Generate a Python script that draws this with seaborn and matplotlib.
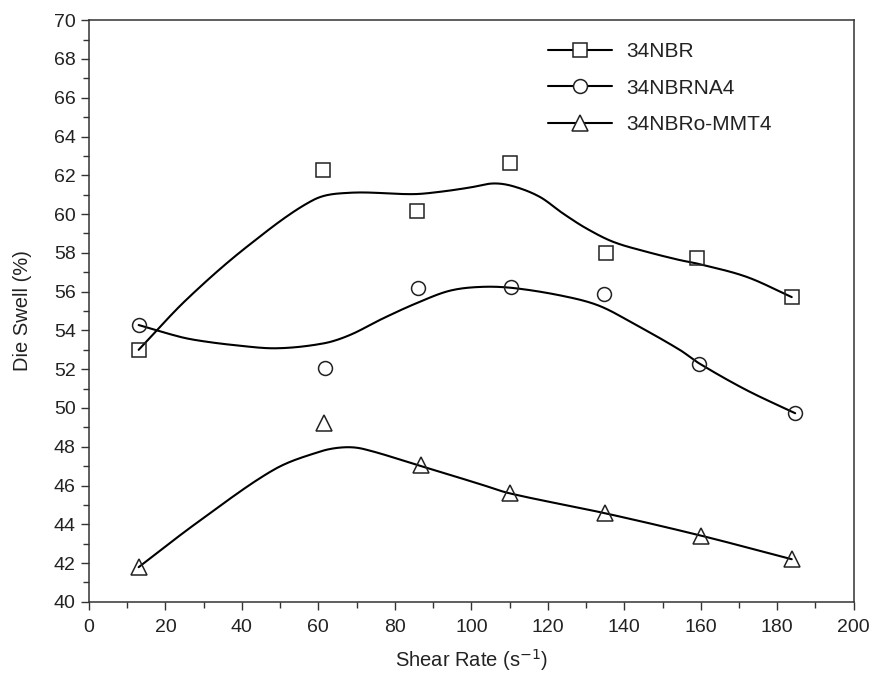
import numpy as np
import pandas as pd
import matplotlib
matplotlib.use("Agg")
import matplotlib.pyplot as plt
from matplotlib.lines import Line2D
import seaborn as sns

# ---- measured data points ----
x_nbr = [13, 61.2, 85.8, 110.1, 135.2, 159.0, 183.8]
y_nbr = [53.0, 62.27, 60.15, 62.63, 58.0, 57.73, 55.72]

x_na4 = [13, 61.7, 86.0, 110.3, 134.6, 159.6, 184.7]
y_na4 = [54.28, 52.05, 56.17, 56.25, 55.88, 52.27, 49.73]

x_mmt = [13, 61.4, 86.9, 110.0, 135.0, 160.0, 183.8]
y_mmt = [41.79, 49.21, 47.06, 45.6, 44.57, 43.42, 42.2]

# ---- fitted (smoothed) curves ----
cx_nbr = [13, 25.4, 41.2, 58.6, 68.2, 84.8, 91.8, 99.6, 105.7, 110.9, 117.9, 124.0,
          130.1, 137.1, 145.8, 154.5, 158.8, 171.9, 183.8]
cy_nbr = [53.0, 55.57, 58.3, 60.72, 61.1, 61.03, 61.15, 61.37, 61.58, 61.44, 60.89, 60.03,
          59.26, 58.57, 58.06, 57.63, 57.46, 56.77, 55.72]

cx_na4 = [13, 23.8, 29.0, 37.7, 49.0, 61.3, 68.2, 76.9, 85.6, 94.4, 103.1, 111.8, 124.9,
          133.6, 142.3, 154.5, 159.6, 171.9, 184.7]
cy_na4 = [54.28, 53.67, 53.47, 53.25, 53.08, 53.33, 53.76, 54.62, 55.40, 56.05, 56.25, 56.17,
          55.74, 55.26, 54.37, 53.0, 52.3, 50.93, 49.73]

cx_mmt = [13, 28.1, 48.2, 60.4, 66.5, 71.7, 86.9, 102.2, 110.0, 135.0, 160.0, 183.8]
cy_mmt = [41.79, 44.06, 46.8, 47.75, 47.97, 47.89, 47.0, 46.08, 45.6, 44.57, 43.42, 42.2]

labels = ["34NBR", "34NBRNA4", "34NBRo-MMT4"]
markers = ["s", "o", "^"]


def smooth(xs, ys, n=24):
    """Cubic Hermite rendering of a read-off curve (for drawing only)."""
    x = np.asarray(xs, float)
    y = np.asarray(ys, float)
    m = np.empty_like(y)
    m[1:-1] = (y[2:] - y[:-2]) / (x[2:] - x[:-2])
    m[0] = (y[1] - y[0]) / (x[1] - x[0])
    m[-1] = (y[-1] - y[-2]) / (x[-1] - x[-2])
    X, Y = [], []
    for i in range(len(x) - 1):
        h = x[i + 1] - x[i]
        t = np.linspace(0, 1, n, endpoint=False)
        h00 = 2 * t**3 - 3 * t**2 + 1
        h10 = t**3 - 2 * t**2 + t
        h01 = -2 * t**3 + 3 * t**2
        h11 = t**3 - t**2
        X.append(x[i] + t * h)
        Y.append(h00 * y[i] + h10 * h * m[i] + h01 * y[i + 1] + h11 * h * m[i + 1])
    X.append([x[-1]])
    Y.append([y[-1]])
    return np.concatenate(X), np.concatenate(Y)


sns.set_style("ticks")
plt.rcParams["font.family"] = ["Liberation Sans", "DejaVu Sans"]

fig = plt.figure(figsize=(8.72, 6.74), dpi=100)
ax = fig.add_axes([0.102, 0.107, 0.877, 0.863])

curves = [(cx_nbr, cy_nbr), (cx_na4, cy_na4), (cx_mmt, cy_mmt)]
points = [(x_nbr, y_nbr), (x_na4, y_na4), (x_mmt, y_mmt)]
msizes = [10, 10, 11]

for (cx, cy), (px, py), lab, mk, ms in zip(curves, points, labels, markers, msizes):
    sx, sy = smooth(cx, cy)
    df = pd.DataFrame({"x": sx, "y": sy})
    sns.lineplot(data=df, x="x", y="y", ax=ax, color="black", lw=1.5, sort=False,
                 estimator=None, zorder=2)
    dp = pd.DataFrame({"x": px, "y": py})
    ax.plot(dp["x"], dp["y"], ls="none", marker=mk, ms=ms, mfc="none", mec="#222222",
            mew=1.1, zorder=3)

ax.set_xlim(0, 200)
ax.set_ylim(40, 70)
ax.set_xticks(np.arange(0, 201, 20))
ax.set_xticks(np.arange(0, 201, 10), minor=True)
ax.set_yticks(np.arange(40, 71, 2))
ax.set_yticks(np.arange(40, 71, 1), minor=True)
ax.tick_params(which="major", length=6, width=1, color="#333333", labelsize=14,
               labelcolor="#222222", direction="out")
ax.tick_params(axis="x", which="major", pad=6)
ax.tick_params(which="minor", length=4, width=1, color="#333333", direction="out")
for s in ax.spines.values():
    s.set_visible(True)
    s.set_color("#333333")
    s.set_linewidth(1.1)

ax.set_xlabel("Shear Rate (s$^{\u22121}$)", fontsize=14.5, color="#222222", labelpad=8)
ax.set_ylabel("Die Swell (%)", fontsize=14.5, color="#222222", labelpad=16)

handles = [Line2D([0], [0], color="black", lw=1.5, marker=m, ms=ms, mfc="white",
                  mec="#222222", mew=1.1) for m, ms in zip(markers, msizes)]
leg = ax.legend(handles, labels, loc="upper left", bbox_to_anchor=(0.6, 0.962),
                frameon=False, fontsize=15, handlelength=3.1, handletextpad=0.65,
                labelspacing=0.83, borderpad=0, borderaxespad=0)
for t in leg.get_texts():
    t.set_color("#222222")

fig.savefig("out.png", dpi=100)
